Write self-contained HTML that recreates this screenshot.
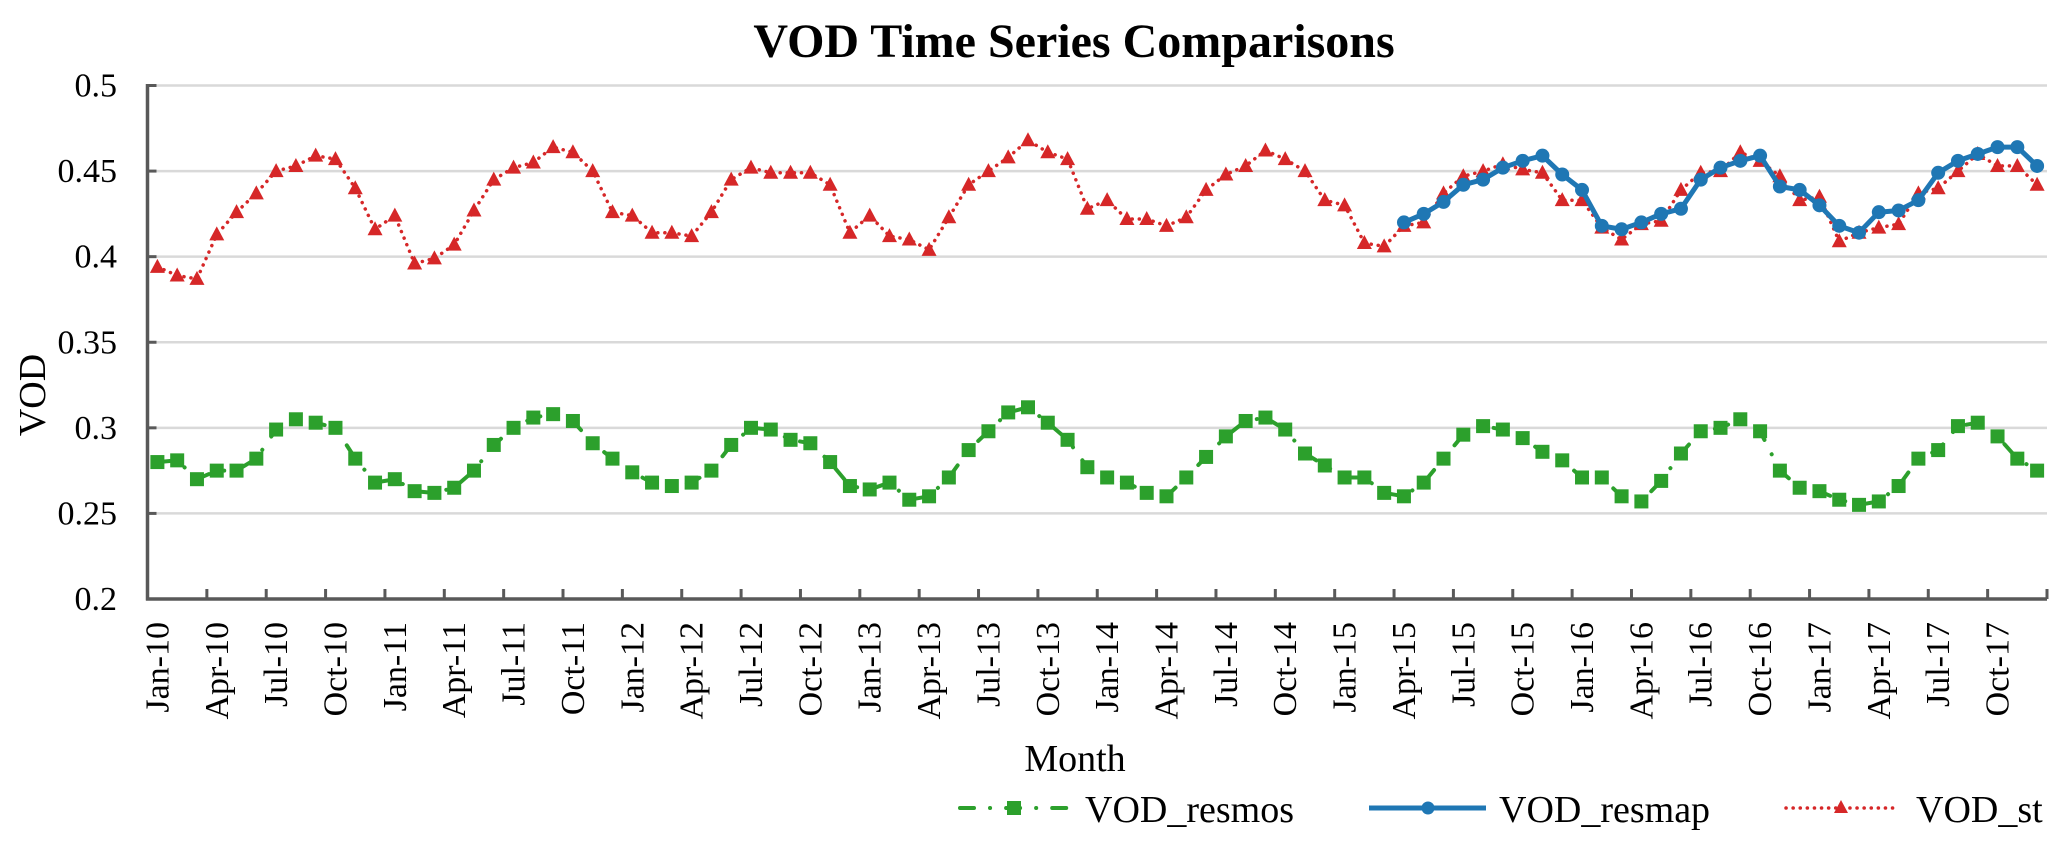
<!DOCTYPE html>
<html><head><meta charset="utf-8">
<style>
html,body{margin:0;padding:0;background:#fff;}
svg{display:block;font-family:"Liberation Serif","Times New Roman",serif;}
</style></head>
<body>
<svg id="chart" width="2067" height="848" viewBox="0 0 2067 848" xmlns="http://www.w3.org/2000/svg">
<text x="1074" y="57" text-anchor="middle" font-size="48" font-weight="bold" fill="#000">VOD Time Series Comparisons</text>
<g id="grid"></g>
<g id="yaxis"></g>
<g id="xaxis"></g>
<g id="series"></g>
<text transform="translate(45,395) rotate(-90)" text-anchor="middle" font-size="38" fill="#000">VOD</text>
<text x="1075" y="771" text-anchor="middle" font-size="38" fill="#000">Month</text>
<g>
  <g>
    <line x1="960" y1="808" x2="1071" y2="808" stroke="#2ca02c" stroke-width="4" stroke-linecap="round" stroke-dasharray="14 16 0.1 16"/>
    <rect x="1007" y="801" width="14" height="14" fill="#2ca02c"/>
    <text x="1085" y="822" font-size="38" fill="#000">VOD_resmos</text>
  </g>
  <g>
    <line x1="1369" y1="808" x2="1486" y2="808" stroke="#1f77b4" stroke-width="5"/>
    <circle cx="1428" cy="808" r="6.5" fill="#1f77b4"/>
    <text x="1499" y="822" font-size="38" fill="#000">VOD_resmap</text>
  </g>
  <g>
    <line x1="1786" y1="808" x2="1897" y2="808" stroke="#d62728" stroke-width="3.5" stroke-linecap="round" stroke-dasharray="0.1 7"/>
    <polygon points="1841,800 1848,813 1834,813" fill="#d62728"/>
    <text x="1916" y="822" font-size="38" fill="#000">VOD_st</text>
  </g>
</g>
</svg>
<script>
const months = ["Jan","Feb","Mar","Apr","May","Jun","Jul","Aug","Sep","Oct","Nov","Dec"];
const years = ["10","11","12","13","14","15","16","17"];
const yTicks = [0.2,0.25,0.3,0.35,0.4,0.45,0.5];
const yTickLabels = ["0.2","0.25","0.3","0.35","0.4","0.45","0.5"];
const vodSt = [0.394,0.389,0.387,0.413,0.426,0.437,0.450,0.453,0.459,0.457,0.440,0.416,
0.424,0.396,0.399,0.407,0.427,0.445,0.452,0.455,0.464,0.461,0.450,0.426,
0.424,0.414,0.414,0.412,0.426,0.445,0.452,0.449,0.449,0.449,0.442,0.414,
0.424,0.412,0.410,0.404,0.423,0.442,0.450,0.458,0.468,0.461,0.457,0.428,
0.433,0.422,0.422,0.418,0.423,0.439,0.448,0.453,0.462,0.457,0.450,0.433,
0.430,0.408,0.406,0.418,0.420,0.437,0.447,0.450,0.454,0.451,0.449,0.433,
0.433,0.417,0.410,0.419,0.421,0.439,0.449,0.450,0.461,0.456,0.447,0.433,
0.435,0.409,0.414,0.417,0.419,0.437,0.440,0.450,0.460,0.453,0.453,0.442];
const vodResmap = [null,null,null,null,null,null,null,null,null,null,null,null,
null,null,null,null,null,null,null,null,null,null,null,null,
null,null,null,null,null,null,null,null,null,null,null,null,
null,null,null,null,null,null,null,null,null,null,null,null,
null,null,null,null,null,null,null,null,null,null,null,null,
null,null,null,0.420,0.425,0.432,0.442,0.445,0.452,0.456,0.459,0.448,
0.439,0.418,0.416,0.420,0.425,0.428,0.445,0.452,0.456,0.459,0.441,0.439,
0.430,0.418,0.414,0.426,0.427,0.433,0.449,0.456,0.460,0.464,0.464,0.453];
const vodResmos = [0.280,0.281,0.270,0.275,0.275,0.282,0.299,0.305,0.303,0.300,0.282,0.268,
0.270,0.263,0.262,0.265,0.275,0.290,0.300,0.306,0.308,0.304,0.291,0.282,
0.274,0.268,0.266,0.268,0.275,0.290,0.300,0.299,0.293,0.291,0.280,0.266,
0.264,0.268,0.258,0.260,0.271,0.287,0.298,0.309,0.312,0.303,0.293,0.277,
0.271,0.268,0.262,0.260,0.271,0.283,0.295,0.304,0.306,0.299,0.285,0.278,
0.271,0.271,0.262,0.260,0.268,0.282,0.296,0.301,0.299,0.294,0.286,0.281,
0.271,0.271,0.260,0.257,0.269,0.285,0.298,0.300,0.305,0.298,0.275,0.265,
0.263,0.258,0.255,0.257,0.266,0.282,0.287,0.301,0.303,0.295,0.282,0.275];

const NS = "http://www.w3.org/2000/svg";
const L = 147.5, R = 2047, T = 85.5, B = 599;
const N = vodSt.length;
const step = (R - L) / N;
function xPos(i){ return L + step * (i + 0.5); }
function yPos(v){ return B - (v - 0.2) / 0.3 * (B - T); }
function mk(tag, attrs, parent){ const e = document.createElementNS(NS, tag); for (const k in attrs) e.setAttribute(k, attrs[k]); parent.appendChild(e); return e; }

const grid = document.getElementById('grid');
const yaxis = document.getElementById('yaxis');
const xaxis = document.getElementById('xaxis');
const series = document.getElementById('series');

yTicks.forEach((v, k) => {
  const y = yPos(v);
  if (k > 0) {
    const g = mk('line', {x1: L, x2: R, y1: y, y2: y, stroke: '#d9d9d9', 'stroke-width': 2.5}, grid);
    
    
  }
  const t = mk('line', {x1: L, x2: L + 9, y1: y, y2: y, stroke: '#595959', 'stroke-width': 3}, yaxis);
  
  
  const lb = mk('text', {x: 117, y: y + 11, 'text-anchor': 'end', 'font-size': 34, fill: '#000'}, yaxis);
  lb.textContent = yTickLabels[k];
  
  
});
const ya = mk('line', {x1: L, x2: L, y1: T - 1.5, y2: B + 1.5, stroke: '#595959', 'stroke-width': 3.5}, yaxis);


const xa = mk('line', {x1: L - 1.5, x2: R, y1: B, y2: B, stroke: '#595959', 'stroke-width': 3.5}, xaxis);


for (let i = 3; i <= N; i += 3) {
  const x = L + step * i;
  const t = mk('line', {x1: x, x2: x, y1: B, y2: B - 10, stroke: '#595959', 'stroke-width': 3}, xaxis);
  
  
}
for (let i = 0; i < N; i += 3) {
  const x = xPos(i), y = 622;
  const lb = mk('text', {x: 0, y: 0, 'text-anchor': 'end', 'font-size': 34, fill: '#000', transform: `translate(${x + 11},${y}) rotate(-90)`}, xaxis);
  lb.textContent = months[i % 12] + '-' + years[Math.floor(i / 12)];
  
  
}

function pathFor(arr){
  let d = '', pen = false;
  arr.forEach((v, i) => { if (v == null) { pen = false; return; } d += (pen ? 'L' : 'M') + xPos(i).toFixed(1) + ',' + yPos(v).toFixed(1); pen = true; });
  return d;
}

// resmos
const gm = mk('g', {}, series);


const pm = mk('path', {d: pathFor(vodResmos), fill: 'none', stroke: '#2ca02c', 'stroke-width': 4, 'stroke-linecap': 'round', 'stroke-dasharray': '14 16 0.1 16'}, gm);


vodResmos.forEach((v, i) => {
  const r = mk('rect', {x: xPos(i) - 7, y: yPos(v) - 7, width: 14, height: 14, fill: '#2ca02c'}, gm);
  
  
});

// st
const gs = mk('g', {}, series);


const ps = mk('path', {d: pathFor(vodSt), fill: 'none', stroke: '#d62728', 'stroke-width': 3.5, 'stroke-linecap': 'round', 'stroke-dasharray': '0.1 7'}, gs);



// resmap
const gb = mk('g', {}, series);


const pb = mk('path', {d: pathFor(vodResmap), fill: 'none', stroke: '#1f77b4', 'stroke-width': 5, 'stroke-linejoin': 'round'}, gb);


vodResmap.forEach((v, i) => {
  if (v == null) return;
  const c = mk('circle', {cx: xPos(i), cy: yPos(v), r: 7, fill: '#1f77b4'}, gb);
  
  
});

vodSt.forEach((v, i) => {
  const x = xPos(i), y = yPos(v);
  const p = mk('polygon', {points: `${x},${y - 8} ${x + 7.5},${y + 6} ${x - 7.5},${y + 6}`, fill: '#d62728'}, gs);
  
  
});
</script>
</body></html>
